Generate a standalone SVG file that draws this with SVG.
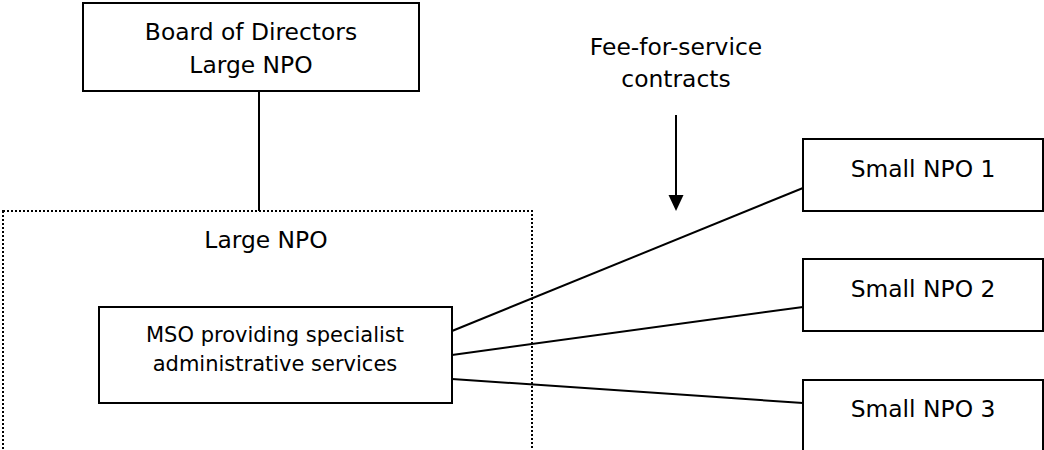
<svg xmlns="http://www.w3.org/2000/svg" width="1044" height="450" viewBox="0 0 1044 450">
<style>
.box{fill:#fff;stroke:#000;stroke-width:2}
.frame{fill:none;stroke:#000;stroke-width:2;stroke-dasharray:2 2}
.t{font-family:"DejaVu Sans",Verdana,sans-serif;font-size:23.4px;fill:#000;text-anchor:middle}
.s{font-size:21px}
.c{stroke:#000;stroke-width:2;fill:none}
</style>
<rect width="1044" height="450" fill="#fff"/>
<g id="large-npo">
<rect class="frame" x="3" y="211" width="529" height="260"/>
<text class="t" x="266" y="248">Large NPO</text>
</g>
<g id="connectors">
<line class="c" x1="259" y1="91" x2="259" y2="211"/>
<line class="c" x1="452" y1="331" x2="803" y2="188"/>
<line class="c" x1="452" y1="355" x2="803" y2="307"/>
<line class="c" x1="452" y1="379" x2="803" y2="403"/>
<path d="M676,115 L676,198" class="c"/>
<path d="M668.5,195 L683.5,195 L676,211 Z" fill="#000"/>
</g>
<g id="board">
<rect class="box" x="83" y="3" width="336" height="88"/>
<text class="t" x="251" y="40">Board of Directors</text>
<text class="t" x="251" y="73">Large NPO</text>
</g>
<g id="fee-label">
<text class="t" x="676" y="55">Fee-for-service</text>
<text class="t" x="676" y="87">contracts</text>
</g>
<g id="mso">
<rect class="box" x="99" y="307" width="353" height="96"/>
<text class="t s" x="275" y="342">MSO providing specialist</text>
<text class="t s" x="275" y="371">administrative services</text>
</g>
<g id="small-npo-1">
<rect class="box" x="803" y="139" width="240" height="72"/>
<text class="t" x="923" y="177">Small NPO 1</text>
</g>
<g id="small-npo-2">
<rect class="box" x="803" y="259" width="240" height="72"/>
<text class="t" x="923" y="297">Small NPO 2</text>
</g>
<g id="small-npo-3">
<rect class="box" x="803" y="380" width="240" height="90"/>
<text class="t" x="923" y="417">Small NPO 3</text>
</g>
</svg>
